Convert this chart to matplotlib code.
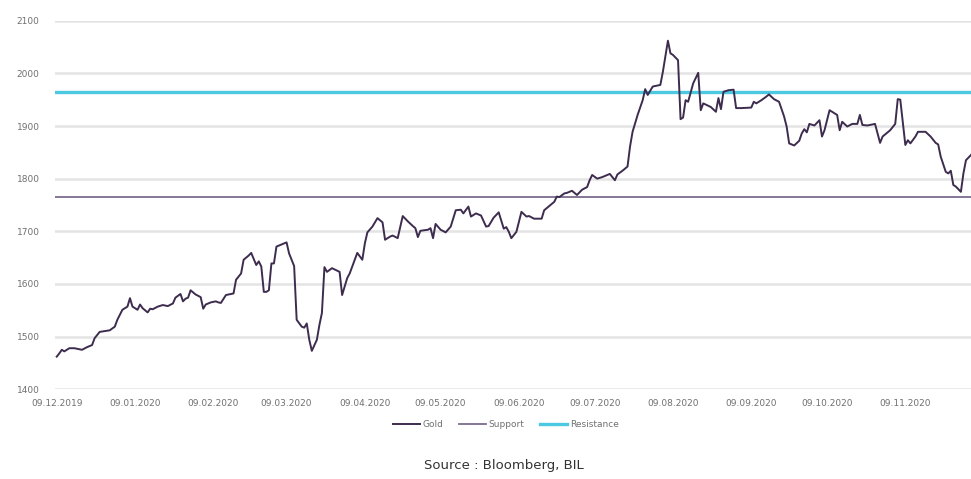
import numpy as np
import pandas as pd
import matplotlib
matplotlib.use("Agg")
import matplotlib.pyplot as plt
import matplotlib.dates as mdates

# Gold price (days after 09.12.2019, USD/oz)
START = pd.Timestamp("2019-12-09")
gold_days = [0, 1, 2, 3, 5, 7, 9, 10, 12, 14, 15, 17, 21, 23, 24, 26, 28, 29, 30, 32,
             33, 34, 36, 37, 38, 40, 42, 44, 46, 47, 49, 50, 51, 52, 53, 55, 57, 58, 59, 61,
             63, 64, 65, 67, 69, 70, 71, 73, 74, 76, 77, 79, 80, 81, 82, 83, 84, 85, 86, 87,
             89, 91, 92, 94, 95, 97, 98, 99, 100, 101, 103, 104, 105, 106, 107, 109, 112, 113, 115, 116,
             118, 119, 121, 122, 123, 125, 127, 129, 130, 132, 133, 135, 137, 139, 141, 142, 143, 144, 147, 148,
             149, 150, 152, 154, 156, 158, 160, 161, 163, 164, 166, 168, 170, 171, 173, 175, 177, 178, 179, 180,
             181, 182, 184, 186, 187, 189, 192, 193, 195, 197, 198, 199, 201, 202, 204, 206, 208, 210, 211, 212,
             214, 216, 219, 221, 222, 224, 226, 227, 228, 230, 232, 233, 234, 236, 239, 240, 242, 243, 244, 246,
             247, 248, 249, 250, 252, 254, 255, 256, 259, 261, 262, 263, 264, 266, 268, 269, 271, 275, 276, 277,
             279, 281, 282, 284, 286, 288, 289, 290, 292, 294, 295, 296, 297, 298, 300, 302, 303, 304, 306, 307,
             309, 310, 311, 313, 315, 317, 318, 319, 321, 324, 326, 327, 330, 332, 333, 334, 336, 337, 338, 340,
             341, 344, 346, 348, 349, 350, 352, 353, 354, 355, 356, 358, 359, 360, 362]
gold_vals = [1462, 1468, 1475, 1472, 1478, 1478, 1476, 1475, 1480, 1484, 1497, 1509, 1512, 1519, 1532, 1551, 1557, 1573, 1557, 1551,
             1561, 1554, 1546, 1553, 1552, 1557, 1560, 1558, 1563, 1574, 1581, 1567, 1572, 1574, 1588, 1580, 1575, 1553, 1561, 1565,
             1567, 1565, 1564, 1579, 1581, 1582, 1608, 1620, 1646, 1654, 1659, 1636, 1643, 1633, 1585, 1585, 1588, 1639, 1639, 1671,
             1675, 1679, 1658, 1634, 1532, 1519, 1517, 1525, 1494, 1473, 1494, 1522, 1545, 1632, 1623, 1630, 1623, 1579, 1611, 1620,
             1646, 1659, 1646, 1677, 1698, 1709, 1725, 1717, 1684, 1690, 1692, 1687, 1729, 1719, 1710, 1706, 1689, 1701, 1703, 1706,
             1687, 1714, 1703, 1698, 1709, 1740, 1741, 1734, 1747, 1728, 1734, 1730, 1709, 1710, 1726, 1736, 1705, 1708, 1699, 1687,
             1693, 1699, 1737, 1728, 1729, 1724, 1724, 1740, 1748, 1756, 1766, 1765, 1772, 1773, 1777, 1769, 1779, 1784, 1797, 1807,
             1800, 1803, 1809, 1797, 1808, 1815, 1823, 1861, 1889, 1921, 1949, 1970, 1959, 1975, 1978, 2003, 2062, 2038, 2035, 2025,
             1913, 1916, 1949, 1946, 1981, 2001, 1930, 1943, 1936, 1927, 1953, 1932, 1965, 1968, 1969, 1934, 1934, 1935, 1946, 1943,
             1949, 1956, 1960, 1951, 1946, 1918, 1899, 1867, 1863, 1872, 1886, 1894, 1888, 1904, 1901, 1911, 1880, 1892, 1930, 1927,
             1921, 1892, 1908, 1899, 1904, 1904, 1921, 1902, 1901, 1904, 1868, 1880, 1892, 1904, 1951, 1950, 1864, 1873, 1867, 1880,
             1889, 1889, 1880, 1868, 1865, 1842, 1813, 1810, 1815, 1788, 1785, 1775, 1810, 1835, 1845]

SUPPORT = 1765
RESISTANCE = 1965

y_ticks = [1400, 1500, 1600, 1700, 1800, 1900, 2000, 2100]
x_tick_labels = ["09.12.2019", "09.01.2020", "09.02.2020", "09.03.2020", "09.04.2020", "09.05.2020",
                 "09.06.2020", "09.07.2020", "09.08.2020", "09.09.2020", "09.10.2020", "09.11.2020"]

GOLD_C = "#3d2c4e"
SUPPORT_C = "#7b6b8c"
RESIST_C = "#4cc8e0"
GRID_C = "#e4e4e4"
TEXT_C = "#707070"

dates = START + pd.to_timedelta(gold_days, unit="D")
x_ticks = pd.to_datetime(x_tick_labels, format="%d.%m.%Y")

fig = plt.figure(figsize=(9.71, 4.79), dpi=100, facecolor="white")
ax = fig.add_axes([0.0566, 0.1873, 0.9434, 0.7695])

ax.set_ylim(1400, 2100)
ax.set_xlim(START - pd.Timedelta(days=0.7), START + pd.Timedelta(days=362))

for yv in y_ticks:
    ax.axhline(yv, color=GRID_C, linewidth=1.8, zorder=1)

ax.axhline(SUPPORT, color=SUPPORT_C, linewidth=1.3, zorder=2, label="Support")
ax.axhline(RESISTANCE, color=RESIST_C, linewidth=2.4, zorder=2, label="Resistance")
ax.plot(dates, gold_vals, color=GOLD_C, linewidth=1.4, zorder=3, label="Gold")

ax.set_yticks(y_ticks)
ax.set_yticklabels([str(v) for v in y_ticks])
ax.set_xticks(x_ticks)
ax.set_xticklabels(x_tick_labels)
ax.tick_params(axis="both", length=0, labelsize=6.5, labelcolor=TEXT_C)
ax.tick_params(axis="y", pad=11)
ax.tick_params(axis="x", pad=7)
for sp in ax.spines.values():
    sp.set_visible(False)

handles, labels = ax.get_legend_handles_labels()
order = [labels.index(k) for k in ["Gold", "Support", "Resistance"]]
fig.legend([handles[i] for i in order], [labels[i] for i in order],
           loc="center", bbox_to_anchor=(0.521, 0.113), ncol=3, frameon=False,
           fontsize=6.5, labelcolor=TEXT_C, handlelength=3.0, handletextpad=0.3,
           columnspacing=1.7)

fig.text(0.519, 0.029, "Source : Bloomberg, BIL", ha="center", va="center",
         fontsize=9.5, color="#333333")

fig.savefig("out.png", dpi=100, facecolor="white")
